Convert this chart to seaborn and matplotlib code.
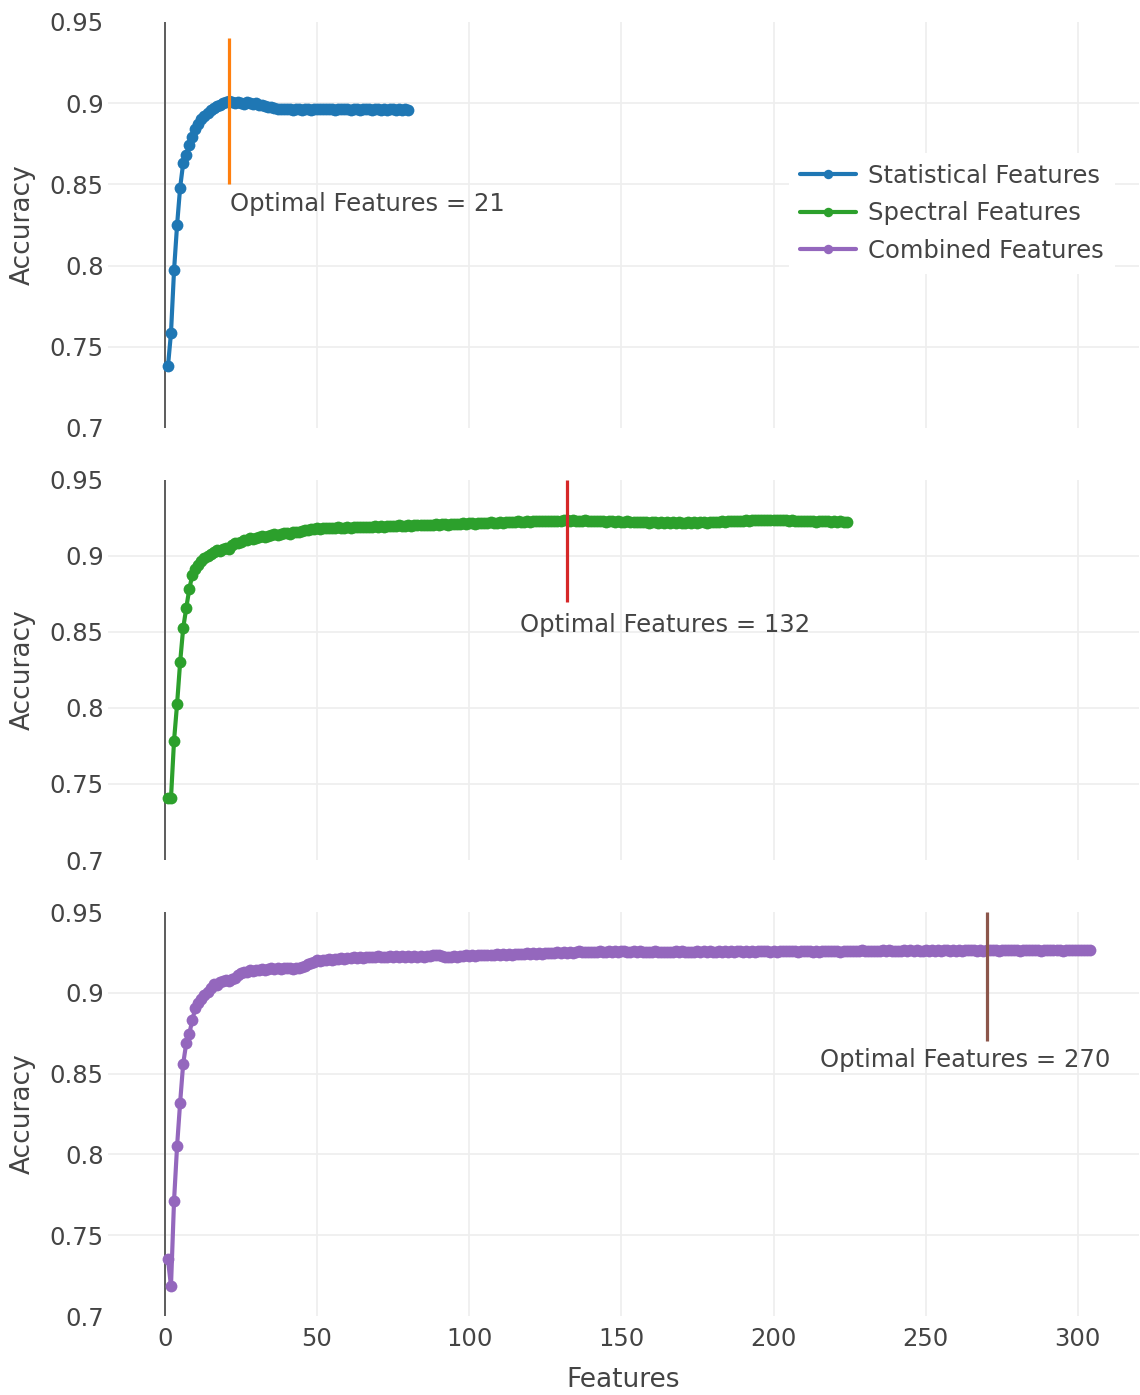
import numpy as np
import pandas as pd
import matplotlib
matplotlib.use("Agg")
import matplotlib.pyplot as plt
import seaborn as sns

# ---------------- data ----------------
series_names = ["Statistical Features", "Spectral Features", "Combined Features"]
series_colors = ["#1f77b4", "#2ca02c", "#9467bd"]

statistical_acc = [
    0.7380, 0.7585, 0.7970, 0.8250, 0.8480, 0.8630, 0.8680, 0.8740, 0.8790, 0.8840,
    0.8870, 0.8900, 0.8920, 0.8940, 0.8960, 0.8970, 0.8980, 0.8990, 0.9000, 0.9005,
    0.9015, 0.9008, 0.9003, 0.9010, 0.9000, 0.8998, 0.9006, 0.9002, 0.8995, 0.8999,
    0.8990, 0.8986, 0.8982, 0.8977, 0.8974, 0.8968, 0.8966, 0.8963, 0.8967, 0.8963,
    0.8965, 0.8961, 0.8966, 0.8963, 0.8961, 0.8965, 0.8962, 0.8960, 0.8964, 0.8966,
    0.8962, 0.8966, 0.8963, 0.8967, 0.8964, 0.8960, 0.8963, 0.8966, 0.8962, 0.8964,
    0.8961, 0.8965, 0.8963, 0.8959, 0.8964, 0.8966, 0.8962, 0.8960, 0.8963, 0.8965,
    0.8961, 0.8963, 0.8960, 0.8964, 0.8962, 0.8961, 0.8963, 0.8960, 0.8962, 0.8961,
]

spectral_acc = [
    0.7408, 0.7408, 0.7785, 0.8026, 0.8300, 0.8524, 0.8656, 0.8781, 0.8875, 0.8912,
    0.8941, 0.8968, 0.8985, 0.8998, 0.9012, 0.9024, 0.9038, 0.9033, 0.9047, 0.9052,
    0.9049, 0.9071, 0.9083, 0.9086, 0.9095, 0.9102, 0.9108, 0.9116, 0.9113, 0.9121,
    0.9124, 0.9129, 0.9126, 0.9134, 0.9138, 0.9142, 0.9140, 0.9147, 0.9149, 0.9152,
    0.9148, 0.9156, 0.9160, 0.9157, 0.9165, 0.9170, 0.9168, 0.9176, 0.9179, 0.9182,
    0.9180, 0.9184, 0.9181, 0.9186, 0.9183, 0.9185, 0.9188, 0.9184, 0.9187, 0.9190,
    0.9186, 0.9189, 0.9192, 0.9188, 0.9191, 0.9194, 0.9190, 0.9193, 0.9196, 0.9192,
    0.9195, 0.9193, 0.9197, 0.9199, 0.9195, 0.9198, 0.9201, 0.9197, 0.9200, 0.9203,
    0.9199, 0.9202, 0.9205, 0.9201, 0.9204, 0.9207, 0.9203, 0.9206, 0.9209, 0.9205,
    0.9208, 0.9211, 0.9207, 0.9210, 0.9213, 0.9209, 0.9212, 0.9215, 0.9211, 0.9214,
    0.9217, 0.9213, 0.9216, 0.9219, 0.9215, 0.9218, 0.9221, 0.9217, 0.9220, 0.9223,
    0.9219, 0.9222, 0.9225, 0.9221, 0.9224, 0.9227, 0.9223, 0.9226, 0.9229, 0.9225,
    0.9228, 0.9231, 0.9227, 0.9230, 0.9233, 0.9229, 0.9232, 0.9230, 0.9233, 0.9231,
    0.9234, 0.9236, 0.9232, 0.9235, 0.9231, 0.9233, 0.9230, 0.9234, 0.9232, 0.9229,
    0.9231, 0.9228, 0.9232, 0.9229, 0.9226, 0.9230, 0.9227, 0.9225, 0.9229, 0.9226,
    0.9224, 0.9227, 0.9223, 0.9226, 0.9222, 0.9225, 0.9221, 0.9224, 0.9220, 0.9223,
    0.9221, 0.9219, 0.9223, 0.9220, 0.9222, 0.9218, 0.9221, 0.9219, 0.9222, 0.9220,
    0.9218, 0.9221, 0.9219, 0.9222, 0.9220, 0.9223, 0.9221, 0.9219, 0.9222, 0.9224,
    0.9223, 0.9226, 0.9229, 0.9226, 0.9230, 0.9232, 0.9229, 0.9232, 0.9230, 0.9233,
    0.9236, 0.9233, 0.9235, 0.9238, 0.9234, 0.9236, 0.9239, 0.9235, 0.9237, 0.9240,
    0.9236, 0.9238, 0.9234, 0.9236, 0.9232, 0.9234, 0.9231, 0.9233, 0.9229, 0.9231,
    0.9230, 0.9227, 0.9229, 0.9226, 0.9228, 0.9230, 0.9227, 0.9229, 0.9226, 0.9228,
    0.9226, 0.9228, 0.9225, 0.9224,
]

combined_acc = [
    0.7350, 0.7186, 0.7712, 0.8052, 0.8320, 0.8560, 0.8687, 0.8745, 0.8832, 0.8904,
    0.8938, 0.8962, 0.8985, 0.9006, 0.9032, 0.9055, 0.9051, 0.9068, 0.9072, 0.9079,
    0.9076, 0.9088, 0.9093, 0.9112, 0.9124, 0.9131, 0.9128, 0.9140, 0.9137, 0.9143,
    0.9139, 0.9146, 0.9142, 0.9148, 0.9151, 0.9147, 0.9153, 0.9150, 0.9156, 0.9152,
    0.9154, 0.9150, 0.9155, 0.9152, 0.9158, 0.9168, 0.9177, 0.9186, 0.9193, 0.9200,
    0.9198, 0.9205, 0.9202, 0.9208, 0.9205, 0.9211, 0.9208, 0.9214, 0.9211, 0.9217,
    0.9214, 0.9219, 0.9216, 0.9221, 0.9218, 0.9222, 0.9219, 0.9223, 0.9220, 0.9225,
    0.9221, 0.9224, 0.9220, 0.9226, 0.9222, 0.9225, 0.9221, 0.9227, 0.9223, 0.9226,
    0.9222, 0.9228, 0.9224, 0.9227, 0.9223, 0.9229, 0.9225, 0.9231, 0.9236, 0.9232,
    0.9228, 0.9224, 0.9220, 0.9223, 0.9227, 0.9224, 0.9229, 0.9226, 0.9231, 0.9228,
    0.9233, 0.9230, 0.9235, 0.9231, 0.9236, 0.9233, 0.9237, 0.9234, 0.9239, 0.9235,
    0.9238, 0.9235, 0.9240, 0.9237, 0.9241, 0.9238, 0.9243, 0.9239, 0.9244, 0.9241,
    0.9245, 0.9242, 0.9246, 0.9243, 0.9248, 0.9244, 0.9249, 0.9246, 0.9250, 0.9247,
    0.9251, 0.9248, 0.9252, 0.9249, 0.9253, 0.9256, 0.9252, 0.9255, 0.9251, 0.9254,
    0.9250, 0.9253, 0.9256, 0.9252, 0.9255, 0.9258, 0.9254, 0.9257, 0.9253, 0.9256,
    0.9259, 0.9255, 0.9252, 0.9256, 0.9253, 0.9257, 0.9254, 0.9251, 0.9255, 0.9252,
    0.9256, 0.9253, 0.9250, 0.9254, 0.9251, 0.9255, 0.9252, 0.9256, 0.9253, 0.9257,
    0.9254, 0.9251, 0.9255, 0.9252, 0.9256, 0.9253, 0.9257, 0.9254, 0.9258, 0.9255,
    0.9252, 0.9256, 0.9253, 0.9257, 0.9254, 0.9258, 0.9255, 0.9259, 0.9256, 0.9253,
    0.9257, 0.9254, 0.9258, 0.9255, 0.9259, 0.9256, 0.9260, 0.9257, 0.9254, 0.9258,
    0.9255, 0.9259, 0.9256, 0.9260, 0.9257, 0.9261, 0.9258, 0.9255, 0.9259, 0.9256,
    0.9260, 0.9257, 0.9254, 0.9258, 0.9255, 0.9259, 0.9256, 0.9260, 0.9257, 0.9261,
    0.9258, 0.9255, 0.9259, 0.9256, 0.9260, 0.9257, 0.9261, 0.9258, 0.9262, 0.9259,
    0.9256, 0.9260, 0.9257, 0.9261, 0.9258, 0.9262, 0.9259, 0.9263, 0.9260, 0.9257,
    0.9261, 0.9258, 0.9262, 0.9259, 0.9263, 0.9260, 0.9264, 0.9261, 0.9258, 0.9262,
    0.9259, 0.9263, 0.9260, 0.9264, 0.9261, 0.9265, 0.9262, 0.9259, 0.9263, 0.9260,
    0.9264, 0.9261, 0.9265, 0.9262, 0.9266, 0.9263, 0.9260, 0.9264, 0.9261, 0.9266,
    0.9263, 0.9267, 0.9264, 0.9261, 0.9265, 0.9262, 0.9266, 0.9263, 0.9267, 0.9264,
    0.9261, 0.9265, 0.9262, 0.9266, 0.9263, 0.9267, 0.9264, 0.9261, 0.9265, 0.9262,
    0.9266, 0.9263, 0.9267, 0.9264, 0.9261, 0.9265, 0.9262, 0.9266, 0.9263, 0.9265,
    0.9262, 0.9266, 0.9264, 0.9265,
]

optimal_features = [21, 132, 270]
optimal_colors = ["#ff7f0e", "#d62728", "#8c564b"]
optimal_line_low = [0.85, 0.87, 0.87]
optimal_line_high = [0.94, 0.95, 0.95]
annot_x = [21.4, 116.7, 215.2]
annot_y = [0.838, 0.8546, 0.8584]
annot_texts = ["Optimal Features = 21", "Optimal Features = 132", "Optimal Features = 270"]

y_ticks = [0.7, 0.75, 0.8, 0.85, 0.9, 0.95]
y_tick_labels = ["0.7", "0.75", "0.8", "0.85", "0.9", "0.95"]
x_ticks = [0, 50, 100, 150, 200, 250, 300]
x_tick_labels = ["0", "50", "100", "150", "200", "250", "300"]

# ---------------- style ----------------
sns.set_theme(style="white")
plt.rcParams["font.family"] = ["DejaVu Sans"]
TXT = "#444444"
FS = 17.5

W, H = 1140, 1395
fig = plt.figure(figsize=(W / 100, H / 100), dpi=100)
fig.patch.set_facecolor("white")

left_px, right_px = 108, 1139
panels_px = [(22, 428), (480, 860), (912, 1316)]
xlim = (-18.7, 320.1)

all_series = [statistical_acc, spectral_acc, combined_acc]
axes = []
handles = []
for i, (top, bot) in enumerate(panels_px):
    ax = fig.add_axes([left_px / W, 1 - bot / H, (right_px - left_px) / W, (bot - top) / H])
    axes.append(ax)
    vals = all_series[i]
    df = pd.DataFrame({"Features": np.arange(1, len(vals) + 1), "Accuracy": vals})
    sns.lineplot(data=df, x="Features", y="Accuracy", ax=ax, color=series_colors[i],
                 marker="o", markersize=8.5, markeredgewidth=0, linewidth=3.0,
                 label=series_names[i], zorder=3)
    h, l = ax.get_legend_handles_labels()
    handles.append(h[0])
    ax.get_legend().remove()

    ax.set_xlim(*xlim)
    ax.set_ylim(0.7, 0.95)
    ax.set_yticks(y_ticks)
    ax.set_yticklabels(y_tick_labels)
    ax.set_xticks(x_ticks)
    if i == 2:
        ax.set_xticklabels(x_tick_labels)
        ax.set_xlabel("Features", fontsize=19, color=TXT)
        ax.xaxis.set_label_coords(0.5, -(1380 - 1316) / (bot - top))
        ax.xaxis.label.set_va("center")
    else:
        ax.set_xticklabels([])
        ax.set_xlabel("")
    ax.tick_params(axis="both", length=0, labelsize=FS, labelcolor=TXT)
    ax.tick_params(axis="y", pad=3)
    ax.tick_params(axis="x", pad=8)
    ax.set_ylabel("Accuracy", fontsize=19, color=TXT)
    ax.yaxis.set_label_coords((23 - left_px) / (right_px - left_px), 0.5)
    ax.yaxis.label.set_va("center")
    for s in ax.spines.values():
        s.set_visible(False)
    ax.grid(True, color="#eeeeee", linewidth=1.2, zorder=0)
    ax.set_axisbelow(True)
    for gl, t in zip(ax.yaxis.get_gridlines(), y_ticks):
        if t in (0.7, 0.95):
            gl.set_visible(False)
    # zero line
    ax.axvline(0, color="#444444", linewidth=1.2, zorder=2)

    # optimal marker line and annotation
    ax.vlines(optimal_features[i], optimal_line_low[i], optimal_line_high[i],
              color=optimal_colors[i], linewidth=2.3, zorder=4)
    ax.text(annot_x[i], annot_y[i], annot_texts[i], fontsize=FS, color=TXT,
            ha="left", va="center", zorder=5)

leg = axes[0].legend(handles=handles, labels=series_names, loc="upper left",
                     bbox_to_anchor=(789 / W, 1 - 153 / H), bbox_transform=fig.transFigure,
                     frameon=True, facecolor="white", edgecolor="none", framealpha=1,
                     fontsize=FS, handlelength=2.3, handletextpad=0.5, labelspacing=0.55,
                     borderpad=0.45, borderaxespad=0, markerscale=0.8)
for t in leg.get_texts():
    t.set_color(TXT)
leg.set_zorder(10)

fig.savefig("out.png", dpi=100, facecolor="white")
